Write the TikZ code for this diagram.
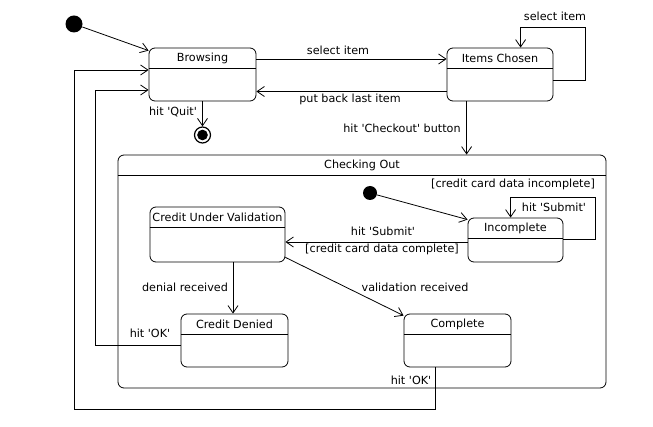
\documentclass[tikz,border=0pt]{standalone}
\usepackage{fontspec}
\setmainfont{DejaVu Sans}
\usetikzlibrary{arrows.meta,calc}
\newcommand{\q}{\textquotesingle}
\tikzset{
  every node/.style={font=\fontsize{8.4}{10}\selectfont},
  state/.style={draw, rounded corners=4.5pt, inner sep=0pt},
  title/.style={anchor=north, minimum height=15pt, inner sep=0pt},
  dot/.style={circle, fill, inner sep=0pt},
  final/.style={circle, draw, line width=0.9pt, inner sep=0pt, minimum size=12pt,
    path picture={\fill (path picture bounding box.center) circle (4pt);}},
  trans/.style={-{Straight Barb[length=5.5pt,width=7.5pt]}},
  lbl/.style={inner sep=0pt}
}
\begin{document}
\begin{tikzpicture}[x=0.75pt,y=-0.75pt,line width=0.6pt]
	\useasboundingbox (0,0) rectangle (653,427);
	% states
	\node[state, minimum width=80.25pt, minimum height=39.75pt] (browsing) at (202.5,74.5) {};
	\node[state, minimum width=79.5pt, minimum height=39.75pt] (chosen) at (500,74.5) {};
	\node[state, minimum width=366pt, minimum height=174.75pt] (checking) at (362,271.5) {};
	\node[state, minimum width=101.25pt, minimum height=41.25pt] (validation) at (217.5,234.5) {};
	\node[state, minimum width=80.25pt, minimum height=39.75pt] (denied) at (234.5,340.5) {};
	\node[state, minimum width=71.25pt, minimum height=33pt] (incomplete) at (515.5,240) {};
	\node[state, minimum width=80.25pt, minimum height=39.75pt] (complete) at (457.5,340.5) {};
	% titles
	\node[title] (browsing-t) at (browsing.north) {Browsing};
	\node[title] (chosen-t) at (chosen.north) {Items Chosen};
	\node[title] (checking-t) at (checking.north) {Checking Out};
	\node[title] (validation-t) at (validation.north) {Credit Under Validation};
	\node[title] (denied-t) at (denied.north) {Credit Denied};
	\node[title] (incomplete-t) at (incomplete.north) {Incomplete};
	\node[title] (complete-t) at (complete.north) {Complete};
	\foreach \s in {browsing,chosen,checking,validation,denied,incomplete,complete}
		\draw (\s-t.south -| \s.west) -- (\s-t.south -| \s.east);
	% pseudo states
	\node[dot, minimum size=12.75pt] (init) at (74,24) {};
	\node[final] (final) at (202.5,135) {};
	\node[dot, minimum size=10.5pt] (init2) at (370,193) {};
	% top level transitions
	\draw[trans] (init) -- ($(browsing.north west)+(0,3)$);
	\draw[trans] ($(browsing.east)+(0,-15.5)$) -- ($(chosen.west)+(0,-15.5)$);
	\draw[trans] ($(chosen.west)+(0,17)$) -- ($(browsing.east)+(0,17)$);
	\draw[trans] ($(chosen.east)+(0,5.5)$) -- ++(32,0) -- ++(0,-53)
		-| ($(chosen.north west)+(74,0)$);
	\draw[trans] (browsing.south) -- (final);
	\coordinate (checkout) at ($(chosen.south west)+(20,0)$);
	\draw[trans] (checkout) -- (checkout |- checking.north);
	\draw[trans] ($(complete.south west)+(32,0)$) -- ++(0,42)
		-| ($(browsing.west)+(-74,-4.5)$) -- ($(browsing.west)+(0,-4.5)$);
	\draw[trans] ($(denied.west)+(0,4.5)$) -- ++(-85,0)
		|- ($(browsing.west)+(0,15.5)$);
	% transitions inside checking out
	\draw[trans] (init2) -- ($(incomplete.north west)+(0,2)$);
	\draw[trans] ($(incomplete.east)+(0,-1)$) -- ++(32,0) -- ++(0,-42)
		-| ($(incomplete.north west)+(43,0)$);
	\draw[trans] ($(incomplete.west)+(0,2)$) -- ($(validation.east)+(0,7.5)$);
	\draw[trans] ($(validation.south)+(15.5,0)$) -- ($(denied.north)+(-1.5,0)$);
	\draw[trans] ($(validation.south east)+(0,-5)$) -- ($(complete.north west)+(0,2)$);
	% labels
	\node[lbl] (l-select) at (338,50) {select item};
	\node[lbl] (l-again) at (555,16) {select item};
	\node[lbl] (l-back) at (350,99) {put back last item};
	\node[lbl] (l-quit) at (173,112) {hit \q Quit\q};
	\node[lbl] (l-checkout) at (402,128) {hit \q Checkout\q{} button};
	\node[lbl] (l-incomplete) at (513,184) {[credit card data incomplete]};
	\node[lbl] (l-resubmit) at (554,207) {hit \q Submit\q};
	\node[lbl] (l-submit) at (383,231) {hit \q Submit\q};
	\node[lbl] (l-complete) at (382,249) {[credit card data complete]};
	\node[lbl] (l-denial) at (185,287) {denial received};
	\node[lbl] (l-valid) at (415,287) {validation received};
	\node[lbl] (l-ok1) at (150,333) {hit \q OK\q};
	\node[lbl] (l-ok2) at (411,380) {hit \q OK\q};
\end{tikzpicture}
\end{document}
